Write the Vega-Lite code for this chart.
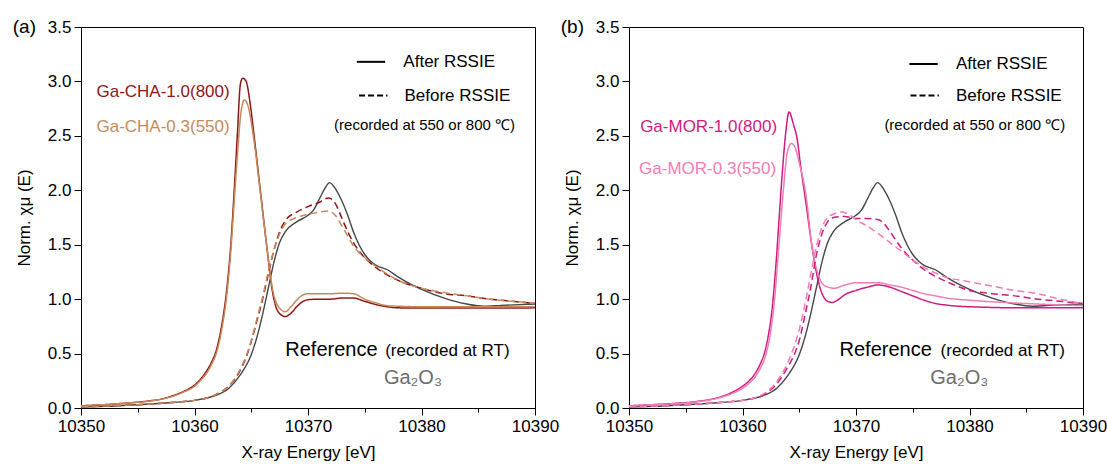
{
"$schema": "https://vega.github.io/schema/vega-lite/v6.json",
"padding": {"left": 12, "top": 17, "right": 0, "bottom": 0},
"spacing": 0,
"config": {
 "font": "Liberation Sans",
 "view": {"stroke": "black", "strokeWidth": 1},
 "axis": {"grid": false, "domainColor": "black", "tickColor": "black", "labelColor": "black", "titleColor": "black", "labelFontSize": 17, "titleFontSize": 17, "titleFontWeight": "normal", "labelFont": "Liberation Sans", "titleFont": "Liberation Sans", "labelPadding": 3, "tickWidth": 1, "domainWidth": 1}
},
"datasets": {
 "ref": [
  {"energy":10350,"mu":0.01},{"energy":10352,"mu":0.015},{"energy":10355,"mu":0.03},{"energy":10358,"mu":0.05},{"energy":10360,"mu":0.07},{"energy":10361,"mu":0.09},{"energy":10362,"mu":0.12},{"energy":10363,"mu":0.18},{"energy":10364,"mu":0.3},{"energy":10365,"mu":0.49},{"energy":10365.5,"mu":0.65},{"energy":10366,"mu":0.86},{"energy":10366.5,"mu":1.1},{"energy":10367,"mu":1.34},{"energy":10367.5,"mu":1.52},{"energy":10368,"mu":1.62},{"energy":10369,"mu":1.71},{"energy":10370,"mu":1.77},{"energy":10370.5,"mu":1.82},{"energy":10371,"mu":1.92},{"energy":10371.5,"mu":2.02},{"energy":10371.9,"mu":2.07},{"energy":10372.5,"mu":2.0},{"energy":10373,"mu":1.9},{"energy":10373.5,"mu":1.77},{"energy":10374,"mu":1.62},{"energy":10374.5,"mu":1.5},{"energy":10375,"mu":1.41},{"energy":10375.5,"mu":1.35},{"energy":10376,"mu":1.31},{"energy":10377,"mu":1.27},{"energy":10378,"mu":1.2},{"energy":10379,"mu":1.14},{"energy":10380,"mu":1.09},{"energy":10382,"mu":1.01},{"energy":10384,"mu":0.955},{"energy":10385.5,"mu":0.935},{"energy":10387,"mu":0.943},{"energy":10390,"mu":0.955}
 ],
 "cha": [
  {"series":"CHA-1.0","stage":"After","energy":10350,"mu":0.02},{"series":"CHA-1.0","stage":"After","energy":10352,"mu":0.03},{"series":"CHA-1.0","stage":"After","energy":10354,"mu":0.045},{"series":"CHA-1.0","stage":"After","energy":10356,"mu":0.065},{"series":"CHA-1.0","stage":"After","energy":10357,"mu":0.08},{"series":"CHA-1.0","stage":"After","energy":10358,"mu":0.11},{"series":"CHA-1.0","stage":"After","energy":10359,"mu":0.15},{"series":"CHA-1.0","stage":"After","energy":10360,"mu":0.21},{"series":"CHA-1.0","stage":"After","energy":10360.5,"mu":0.26},{"series":"CHA-1.0","stage":"After","energy":10361,"mu":0.33},{"series":"CHA-1.0","stage":"After","energy":10361.5,"mu":0.42},{"series":"CHA-1.0","stage":"After","energy":10362,"mu":0.56},{"series":"CHA-1.0","stage":"After","energy":10362.4,"mu":0.76},{"series":"CHA-1.0","stage":"After","energy":10362.8,"mu":1.05},{"series":"CHA-1.0","stage":"After","energy":10363.2,"mu":1.5},{"series":"CHA-1.0","stage":"After","energy":10363.5,"mu":2.0},{"series":"CHA-1.0","stage":"After","energy":10363.77,"mu":2.5},{"series":"CHA-1.0","stage":"After","energy":10364.05,"mu":2.98},{"series":"CHA-1.0","stage":"After","energy":10364.25,"mu":3.03},{"series":"CHA-1.0","stage":"After","energy":10364.55,"mu":3.0},{"series":"CHA-1.0","stage":"After","energy":10364.9,"mu":2.8},{"series":"CHA-1.0","stage":"After","energy":10365.25,"mu":2.5},{"series":"CHA-1.0","stage":"After","energy":10365.8,"mu":2.0},{"series":"CHA-1.0","stage":"After","energy":10366.35,"mu":1.5},{"series":"CHA-1.0","stage":"After","energy":10366.9,"mu":1.05},{"series":"CHA-1.0","stage":"After","energy":10367.4,"mu":0.88},{"series":"CHA-1.0","stage":"After","energy":10368,"mu":0.84},{"series":"CHA-1.0","stage":"After","energy":10368.5,"mu":0.87},{"series":"CHA-1.0","stage":"After","energy":10369,"mu":0.93},{"series":"CHA-1.0","stage":"After","energy":10369.5,"mu":0.975},{"series":"CHA-1.0","stage":"After","energy":10370,"mu":0.995},{"series":"CHA-1.0","stage":"After","energy":10371,"mu":1.0},{"series":"CHA-1.0","stage":"After","energy":10372,"mu":1.0},{"series":"CHA-1.0","stage":"After","energy":10373,"mu":1.01},{"series":"CHA-1.0","stage":"After","energy":10374,"mu":1.01},{"series":"CHA-1.0","stage":"After","energy":10375,"mu":0.98},{"series":"CHA-1.0","stage":"After","energy":10376,"mu":0.95},{"series":"CHA-1.0","stage":"After","energy":10377,"mu":0.93},{"series":"CHA-1.0","stage":"After","energy":10378,"mu":0.92},{"series":"CHA-1.0","stage":"After","energy":10380,"mu":0.918},{"series":"CHA-1.0","stage":"After","energy":10385,"mu":0.918},{"series":"CHA-1.0","stage":"After","energy":10390,"mu":0.92},
  {"series":"CHA-0.3","stage":"After","energy":10350,"mu":0.02},{"series":"CHA-0.3","stage":"After","energy":10352,"mu":0.03},{"series":"CHA-0.3","stage":"After","energy":10354,"mu":0.045},{"series":"CHA-0.3","stage":"After","energy":10356,"mu":0.063},{"series":"CHA-0.3","stage":"After","energy":10358,"mu":0.105},{"series":"CHA-0.3","stage":"After","energy":10359,"mu":0.145},{"series":"CHA-0.3","stage":"After","energy":10360,"mu":0.2},{"series":"CHA-0.3","stage":"After","energy":10360.5,"mu":0.25},{"series":"CHA-0.3","stage":"After","energy":10361,"mu":0.31},{"series":"CHA-0.3","stage":"After","energy":10361.5,"mu":0.4},{"series":"CHA-0.3","stage":"After","energy":10362,"mu":0.53},{"series":"CHA-0.3","stage":"After","energy":10362.4,"mu":0.72},{"series":"CHA-0.3","stage":"After","energy":10362.8,"mu":1.0},{"series":"CHA-0.3","stage":"After","energy":10363.2,"mu":1.44},{"series":"CHA-0.3","stage":"After","energy":10363.5,"mu":1.9},{"series":"CHA-0.3","stage":"After","energy":10363.8,"mu":2.35},{"series":"CHA-0.3","stage":"After","energy":10364.1,"mu":2.72},{"series":"CHA-0.3","stage":"After","energy":10364.4,"mu":2.83},{"series":"CHA-0.3","stage":"After","energy":10364.7,"mu":2.78},{"series":"CHA-0.3","stage":"After","energy":10365.25,"mu":2.45},{"series":"CHA-0.3","stage":"After","energy":10365.8,"mu":1.98},{"series":"CHA-0.3","stage":"After","energy":10366.35,"mu":1.5},{"series":"CHA-0.3","stage":"After","energy":10366.9,"mu":1.08},{"series":"CHA-0.3","stage":"After","energy":10367.4,"mu":0.93},{"series":"CHA-0.3","stage":"After","energy":10368,"mu":0.885},{"series":"CHA-0.3","stage":"After","energy":10368.5,"mu":0.93},{"series":"CHA-0.3","stage":"After","energy":10369,"mu":0.99},{"series":"CHA-0.3","stage":"After","energy":10369.5,"mu":1.035},{"series":"CHA-0.3","stage":"After","energy":10370,"mu":1.05},{"series":"CHA-0.3","stage":"After","energy":10371,"mu":1.05},{"series":"CHA-0.3","stage":"After","energy":10372,"mu":1.05},{"series":"CHA-0.3","stage":"After","energy":10373,"mu":1.055},{"series":"CHA-0.3","stage":"After","energy":10374,"mu":1.05},{"series":"CHA-0.3","stage":"After","energy":10375,"mu":1.0},{"series":"CHA-0.3","stage":"After","energy":10376,"mu":0.965},{"series":"CHA-0.3","stage":"After","energy":10377,"mu":0.94},{"series":"CHA-0.3","stage":"After","energy":10378,"mu":0.935},{"series":"CHA-0.3","stage":"After","energy":10380,"mu":0.93},{"series":"CHA-0.3","stage":"After","energy":10385,"mu":0.93},{"series":"CHA-0.3","stage":"After","energy":10390,"mu":0.93},
  {"series":"CHA-1.0","stage":"Before","energy":10350,"mu":0.012},{"series":"CHA-1.0","stage":"Before","energy":10355,"mu":0.03},{"series":"CHA-1.0","stage":"Before","energy":10358,"mu":0.05},{"series":"CHA-1.0","stage":"Before","energy":10360,"mu":0.07},{"series":"CHA-1.0","stage":"Before","energy":10361,"mu":0.09},{"series":"CHA-1.0","stage":"Before","energy":10362,"mu":0.13},{"series":"CHA-1.0","stage":"Before","energy":10363,"mu":0.2},{"series":"CHA-1.0","stage":"Before","energy":10364,"mu":0.34},{"series":"CHA-1.0","stage":"Before","energy":10364.6,"mu":0.48},{"series":"CHA-1.0","stage":"Before","energy":10365,"mu":0.61},{"series":"CHA-1.0","stage":"Before","energy":10365.5,"mu":0.8},{"series":"CHA-1.0","stage":"Before","energy":10366,"mu":1.0},{"series":"CHA-1.0","stage":"Before","energy":10366.5,"mu":1.23},{"series":"CHA-1.0","stage":"Before","energy":10367,"mu":1.45},{"series":"CHA-1.0","stage":"Before","energy":10367.5,"mu":1.62},{"series":"CHA-1.0","stage":"Before","energy":10368,"mu":1.72},{"series":"CHA-1.0","stage":"Before","energy":10369,"mu":1.8},{"series":"CHA-1.0","stage":"Before","energy":10370,"mu":1.85},{"series":"CHA-1.0","stage":"Before","energy":10371,"mu":1.89},{"series":"CHA-1.0","stage":"Before","energy":10371.8,"mu":1.93},{"series":"CHA-1.0","stage":"Before","energy":10372.4,"mu":1.88},{"series":"CHA-1.0","stage":"Before","energy":10373,"mu":1.74},{"series":"CHA-1.0","stage":"Before","energy":10373.5,"mu":1.62},{"series":"CHA-1.0","stage":"Before","energy":10374,"mu":1.52},{"series":"CHA-1.0","stage":"Before","energy":10375,"mu":1.38},{"series":"CHA-1.0","stage":"Before","energy":10376,"mu":1.29},{"series":"CHA-1.0","stage":"Before","energy":10377,"mu":1.22},{"series":"CHA-1.0","stage":"Before","energy":10378,"mu":1.17},{"series":"CHA-1.0","stage":"Before","energy":10380,"mu":1.1},{"series":"CHA-1.0","stage":"Before","energy":10382,"mu":1.05},{"series":"CHA-1.0","stage":"Before","energy":10384,"mu":1.03},{"series":"CHA-1.0","stage":"Before","energy":10386,"mu":1.0},{"series":"CHA-1.0","stage":"Before","energy":10388,"mu":0.98},{"series":"CHA-1.0","stage":"Before","energy":10390,"mu":0.96},
  {"series":"CHA-0.3","stage":"Before","energy":10350,"mu":0.012},{"series":"CHA-0.3","stage":"Before","energy":10355,"mu":0.03},{"series":"CHA-0.3","stage":"Before","energy":10358,"mu":0.05},{"series":"CHA-0.3","stage":"Before","energy":10360,"mu":0.07},{"series":"CHA-0.3","stage":"Before","energy":10361,"mu":0.09},{"series":"CHA-0.3","stage":"Before","energy":10362,"mu":0.13},{"series":"CHA-0.3","stage":"Before","energy":10363,"mu":0.2},{"series":"CHA-0.3","stage":"Before","energy":10364,"mu":0.35},{"series":"CHA-0.3","stage":"Before","energy":10364.6,"mu":0.49},{"series":"CHA-0.3","stage":"Before","energy":10365,"mu":0.62},{"series":"CHA-0.3","stage":"Before","energy":10365.5,"mu":0.82},{"series":"CHA-0.3","stage":"Before","energy":10366,"mu":1.02},{"series":"CHA-0.3","stage":"Before","energy":10366.5,"mu":1.25},{"series":"CHA-0.3","stage":"Before","energy":10367,"mu":1.45},{"series":"CHA-0.3","stage":"Before","energy":10367.5,"mu":1.6},{"series":"CHA-0.3","stage":"Before","energy":10368,"mu":1.69},{"series":"CHA-0.3","stage":"Before","energy":10369,"mu":1.75},{"series":"CHA-0.3","stage":"Before","energy":10370,"mu":1.78},{"series":"CHA-0.3","stage":"Before","energy":10371,"mu":1.8},{"series":"CHA-0.3","stage":"Before","energy":10371.8,"mu":1.81},{"series":"CHA-0.3","stage":"Before","energy":10372.4,"mu":1.77},{"series":"CHA-0.3","stage":"Before","energy":10373,"mu":1.67},{"series":"CHA-0.3","stage":"Before","energy":10373.5,"mu":1.58},{"series":"CHA-0.3","stage":"Before","energy":10374,"mu":1.49},{"series":"CHA-0.3","stage":"Before","energy":10375,"mu":1.38},{"series":"CHA-0.3","stage":"Before","energy":10376,"mu":1.3},{"series":"CHA-0.3","stage":"Before","energy":10377,"mu":1.23},{"series":"CHA-0.3","stage":"Before","energy":10378,"mu":1.17},{"series":"CHA-0.3","stage":"Before","energy":10380,"mu":1.1},{"series":"CHA-0.3","stage":"Before","energy":10382,"mu":1.06},{"series":"CHA-0.3","stage":"Before","energy":10384,"mu":1.03},{"series":"CHA-0.3","stage":"Before","energy":10386,"mu":1.0},{"series":"CHA-0.3","stage":"Before","energy":10388,"mu":0.98},{"series":"CHA-0.3","stage":"Before","energy":10390,"mu":0.965}
 ],
 "mor": [
  {"series":"MOR-1.0","stage":"After","energy":10350,"mu":0.02},{"series":"MOR-1.0","stage":"After","energy":10352,"mu":0.03},{"series":"MOR-1.0","stage":"After","energy":10354,"mu":0.042},{"series":"MOR-1.0","stage":"After","energy":10356,"mu":0.06},{"series":"MOR-1.0","stage":"After","energy":10358,"mu":0.1},{"series":"MOR-1.0","stage":"After","energy":10359,"mu":0.14},{"series":"MOR-1.0","stage":"After","energy":10360,"mu":0.2},{"series":"MOR-1.0","stage":"After","energy":10360.5,"mu":0.24},{"series":"MOR-1.0","stage":"After","energy":10361,"mu":0.3},{"series":"MOR-1.0","stage":"After","energy":10361.5,"mu":0.39},{"series":"MOR-1.0","stage":"After","energy":10362,"mu":0.53},{"series":"MOR-1.0","stage":"After","energy":10362.3,"mu":0.68},{"series":"MOR-1.0","stage":"After","energy":10362.6,"mu":0.9},{"series":"MOR-1.0","stage":"After","energy":10362.9,"mu":1.25},{"series":"MOR-1.0","stage":"After","energy":10363.2,"mu":1.7},{"series":"MOR-1.0","stage":"After","energy":10363.5,"mu":2.15},{"series":"MOR-1.0","stage":"After","energy":10363.8,"mu":2.52},{"series":"MOR-1.0","stage":"After","energy":10364.1,"mu":2.72},{"series":"MOR-1.0","stage":"After","energy":10364.5,"mu":2.6},{"series":"MOR-1.0","stage":"After","energy":10364.8,"mu":2.48},{"series":"MOR-1.0","stage":"After","energy":10365.15,"mu":2.2},{"series":"MOR-1.0","stage":"After","energy":10365.5,"mu":1.95},{"series":"MOR-1.0","stage":"After","energy":10366.1,"mu":1.5},{"series":"MOR-1.0","stage":"After","energy":10366.6,"mu":1.2},{"series":"MOR-1.0","stage":"After","energy":10367.1,"mu":1.03},{"series":"MOR-1.0","stage":"After","energy":10367.5,"mu":0.98},{"series":"MOR-1.0","stage":"After","energy":10367.9,"mu":0.97},{"series":"MOR-1.0","stage":"After","energy":10368.5,"mu":1.0},{"series":"MOR-1.0","stage":"After","energy":10369,"mu":1.04},{"series":"MOR-1.0","stage":"After","energy":10370,"mu":1.08},{"series":"MOR-1.0","stage":"After","energy":10371,"mu":1.11},{"series":"MOR-1.0","stage":"After","energy":10371.9,"mu":1.13},{"series":"MOR-1.0","stage":"After","energy":10373,"mu":1.11},{"series":"MOR-1.0","stage":"After","energy":10374,"mu":1.07},{"series":"MOR-1.0","stage":"After","energy":10375,"mu":1.03},{"series":"MOR-1.0","stage":"After","energy":10376,"mu":0.99},{"series":"MOR-1.0","stage":"After","energy":10377,"mu":0.96},{"series":"MOR-1.0","stage":"After","energy":10378,"mu":0.945},{"series":"MOR-1.0","stage":"After","energy":10380,"mu":0.93},{"series":"MOR-1.0","stage":"After","energy":10385,"mu":0.92},{"series":"MOR-1.0","stage":"After","energy":10390,"mu":0.92},
  {"series":"MOR-0.3","stage":"After","energy":10350,"mu":0.02},{"series":"MOR-0.3","stage":"After","energy":10352,"mu":0.03},{"series":"MOR-0.3","stage":"After","energy":10354,"mu":0.04},{"series":"MOR-0.3","stage":"After","energy":10356,"mu":0.057},{"series":"MOR-0.3","stage":"After","energy":10358,"mu":0.095},{"series":"MOR-0.3","stage":"After","energy":10359,"mu":0.13},{"series":"MOR-0.3","stage":"After","energy":10360,"mu":0.18},{"series":"MOR-0.3","stage":"After","energy":10360.5,"mu":0.22},{"series":"MOR-0.3","stage":"After","energy":10361,"mu":0.27},{"series":"MOR-0.3","stage":"After","energy":10361.5,"mu":0.35},{"series":"MOR-0.3","stage":"After","energy":10362,"mu":0.47},{"series":"MOR-0.3","stage":"After","energy":10362.4,"mu":0.65},{"series":"MOR-0.3","stage":"After","energy":10362.8,"mu":0.97},{"series":"MOR-0.3","stage":"After","energy":10363.2,"mu":1.48},{"series":"MOR-0.3","stage":"After","energy":10363.6,"mu":2.0},{"series":"MOR-0.3","stage":"After","energy":10363.95,"mu":2.35},{"series":"MOR-0.3","stage":"After","energy":10364.3,"mu":2.43},{"series":"MOR-0.3","stage":"After","energy":10364.6,"mu":2.4},{"series":"MOR-0.3","stage":"After","energy":10365,"mu":2.25},{"series":"MOR-0.3","stage":"After","energy":10365.6,"mu":1.95},{"series":"MOR-0.3","stage":"After","energy":10366.1,"mu":1.5},{"series":"MOR-0.3","stage":"After","energy":10366.75,"mu":1.2},{"series":"MOR-0.3","stage":"After","energy":10367.3,"mu":1.12},{"series":"MOR-0.3","stage":"After","energy":10368.1,"mu":1.1},{"series":"MOR-0.3","stage":"After","energy":10369,"mu":1.13},{"series":"MOR-0.3","stage":"After","energy":10370,"mu":1.15},{"series":"MOR-0.3","stage":"After","energy":10371,"mu":1.15},{"series":"MOR-0.3","stage":"After","energy":10372,"mu":1.15},{"series":"MOR-0.3","stage":"After","energy":10373,"mu":1.13},{"series":"MOR-0.3","stage":"After","energy":10374,"mu":1.11},{"series":"MOR-0.3","stage":"After","energy":10375,"mu":1.08},{"series":"MOR-0.3","stage":"After","energy":10376,"mu":1.05},{"series":"MOR-0.3","stage":"After","energy":10377,"mu":1.03},{"series":"MOR-0.3","stage":"After","energy":10378,"mu":1.01},{"series":"MOR-0.3","stage":"After","energy":10380,"mu":0.99},{"series":"MOR-0.3","stage":"After","energy":10383,"mu":0.97},{"series":"MOR-0.3","stage":"After","energy":10386,"mu":0.955},{"series":"MOR-0.3","stage":"After","energy":10390,"mu":0.94},
  {"series":"MOR-1.0","stage":"Before","energy":10350,"mu":0.012},{"series":"MOR-1.0","stage":"Before","energy":10355,"mu":0.03},{"series":"MOR-1.0","stage":"Before","energy":10358,"mu":0.05},{"series":"MOR-1.0","stage":"Before","energy":10360,"mu":0.07},{"series":"MOR-1.0","stage":"Before","energy":10361,"mu":0.09},{"series":"MOR-1.0","stage":"Before","energy":10362,"mu":0.13},{"series":"MOR-1.0","stage":"Before","energy":10363,"mu":0.22},{"series":"MOR-1.0","stage":"Before","energy":10364,"mu":0.38},{"series":"MOR-1.0","stage":"Before","energy":10364.6,"mu":0.5},{"series":"MOR-1.0","stage":"Before","energy":10365,"mu":0.62},{"series":"MOR-1.0","stage":"Before","energy":10365.5,"mu":0.85},{"series":"MOR-1.0","stage":"Before","energy":10366,"mu":1.1},{"series":"MOR-1.0","stage":"Before","energy":10366.5,"mu":1.4},{"series":"MOR-1.0","stage":"Before","energy":10367,"mu":1.6},{"series":"MOR-1.0","stage":"Before","energy":10367.5,"mu":1.71},{"series":"MOR-1.0","stage":"Before","energy":10368,"mu":1.75},{"series":"MOR-1.0","stage":"Before","energy":10369,"mu":1.76},{"series":"MOR-1.0","stage":"Before","energy":10370,"mu":1.74},{"series":"MOR-1.0","stage":"Before","energy":10371,"mu":1.74},{"series":"MOR-1.0","stage":"Before","energy":10372,"mu":1.73},{"series":"MOR-1.0","stage":"Before","energy":10372.5,"mu":1.69},{"series":"MOR-1.0","stage":"Before","energy":10373,"mu":1.62},{"series":"MOR-1.0","stage":"Before","energy":10374,"mu":1.47},{"series":"MOR-1.0","stage":"Before","energy":10375,"mu":1.36},{"series":"MOR-1.0","stage":"Before","energy":10376,"mu":1.27},{"series":"MOR-1.0","stage":"Before","energy":10377,"mu":1.21},{"series":"MOR-1.0","stage":"Before","energy":10378,"mu":1.16},{"series":"MOR-1.0","stage":"Before","energy":10380,"mu":1.08},{"series":"MOR-1.0","stage":"Before","energy":10382,"mu":1.05},{"series":"MOR-1.0","stage":"Before","energy":10384,"mu":1.03},{"series":"MOR-1.0","stage":"Before","energy":10386,"mu":1.0},{"series":"MOR-1.0","stage":"Before","energy":10388,"mu":0.98},{"series":"MOR-1.0","stage":"Before","energy":10390,"mu":0.96},
  {"series":"MOR-0.3","stage":"Before","energy":10350,"mu":0.012},{"series":"MOR-0.3","stage":"Before","energy":10355,"mu":0.03},{"series":"MOR-0.3","stage":"Before","energy":10358,"mu":0.05},{"series":"MOR-0.3","stage":"Before","energy":10360,"mu":0.07},{"series":"MOR-0.3","stage":"Before","energy":10361,"mu":0.09},{"series":"MOR-0.3","stage":"Before","energy":10362,"mu":0.14},{"series":"MOR-0.3","stage":"Before","energy":10363,"mu":0.24},{"series":"MOR-0.3","stage":"Before","energy":10364,"mu":0.42},{"series":"MOR-0.3","stage":"Before","energy":10364.6,"mu":0.58},{"series":"MOR-0.3","stage":"Before","energy":10365,"mu":0.72},{"series":"MOR-0.3","stage":"Before","energy":10365.5,"mu":0.95},{"series":"MOR-0.3","stage":"Before","energy":10366,"mu":1.22},{"series":"MOR-0.3","stage":"Before","energy":10366.5,"mu":1.48},{"series":"MOR-0.3","stage":"Before","energy":10367,"mu":1.66},{"series":"MOR-0.3","stage":"Before","energy":10367.5,"mu":1.75},{"series":"MOR-0.3","stage":"Before","energy":10368,"mu":1.78},{"series":"MOR-0.3","stage":"Before","energy":10368.7,"mu":1.8},{"series":"MOR-0.3","stage":"Before","energy":10369.5,"mu":1.77},{"series":"MOR-0.3","stage":"Before","energy":10370,"mu":1.73},{"series":"MOR-0.3","stage":"Before","energy":10371,"mu":1.67},{"series":"MOR-0.3","stage":"Before","energy":10372,"mu":1.6},{"series":"MOR-0.3","stage":"Before","energy":10373,"mu":1.52},{"series":"MOR-0.3","stage":"Before","energy":10374,"mu":1.44},{"series":"MOR-0.3","stage":"Before","energy":10375,"mu":1.36},{"series":"MOR-0.3","stage":"Before","energy":10376,"mu":1.29},{"series":"MOR-0.3","stage":"Before","energy":10377,"mu":1.24},{"series":"MOR-0.3","stage":"Before","energy":10378,"mu":1.2},{"series":"MOR-0.3","stage":"Before","energy":10380,"mu":1.16},{"series":"MOR-0.3","stage":"Before","energy":10382,"mu":1.12},{"series":"MOR-0.3","stage":"Before","energy":10384,"mu":1.08},{"series":"MOR-0.3","stage":"Before","energy":10386,"mu":1.05},{"series":"MOR-0.3","stage":"Before","energy":10388,"mu":1.0},{"series":"MOR-0.3","stage":"Before","energy":10390,"mu":0.96}
 ]
},
"hconcat": [
 {
  "width": 454, "height": 381,
  "data": {"values": [{"note": "annotation"}]},
  "layer": [
   {"data": {"name": "ref"}, "mark": {"type": "line", "interpolate": "monotone", "color": "#474747", "strokeWidth": 1.4, "clip": true},
    "encoding": {
     "x": {"field": "energy", "type": "quantitative", "scale": {"domain": [10350, 10390], "nice": false, "zero": false},
      "axis": {"title": "X-ray Energy [eV]", "values": [10350,10355,10360,10365,10370,10375,10380,10385,10390], "labelExpr": "datum.value % 10 === 0 ? datum.label : ''", "format": "d", "tickSize": {"condition": {"test": "datum.value % 10 === 0", "value": 7}, "value": 4}, "titlePadding": 10, "labelFlush": false, "labelOverlap": false}},
     "y": {"field": "mu", "type": "quantitative", "scale": {"domain": [0, 3.5], "nice": false},
      "axis": {"title": "Norm. χμ (E)", "values": [0,0.25,0.5,0.75,1,1.25,1.5,1.75,2,2.25,2.5,2.75,3,3.25,3.5], "labelExpr": "(datum.value * 2) % 1 === 0 ? format(datum.value, '.1f') : ''", "tickSize": {"condition": {"test": "(datum.value * 2) % 1 === 0", "value": 7}, "value": 4}, "titlePadding": 14, "labelOverlap": false}}
    }},
   {"data": {"name": "cha"}, "mark": {"type": "line", "interpolate": "monotone", "strokeWidth": 1.5, "clip": true},
    "encoding": {
     "x": {"field": "energy", "type": "quantitative"},
     "y": {"field": "mu", "type": "quantitative"},
     "color": {"field": "series", "type": "nominal", "scale": {"domain": ["CHA-1.0", "CHA-0.3", "MOR-1.0", "MOR-0.3"], "range": ["#8E1616", "#C58A5C", "#CE1A82", "#F07DB4"]}, "legend": null},
     "strokeDash": {"field": "stage", "type": "nominal", "scale": {"domain": ["After", "Before"], "range": [[1, 0], [7, 4]]}, "legend": null}
    }},
   {"mark": {"type": "rule", "color": "black", "strokeWidth": 2}, "encoding": {"x": {"datum": 10374.3}, "x2": {"datum": 10376.8}, "y": {"datum": 3.18}}},
   {"mark": {"type": "rule", "color": "black", "strokeWidth": 2, "strokeDash": [6, 3]}, "encoding": {"x": {"datum": 10374.5}, "x2": {"datum": 10377.0}, "y": {"datum": 2.87}}},
   {"mark": {"type": "text", "text": "After RSSIE", "align": "left", "baseline": "middle", "fontSize": 17, "color": "black"}, "encoding": {"x": {"datum": 10378.4}, "y": {"datum": 3.18}}},
   {"mark": {"type": "text", "text": "Before RSSIE", "align": "left", "baseline": "middle", "fontSize": 17, "color": "black"}, "encoding": {"x": {"datum": 10378.5}, "y": {"datum": 2.87}}},
   {"mark": {"type": "text", "text": "(recorded at 550 or 800 ℃)", "align": "left", "baseline": "middle", "fontSize": 15, "color": "black"}, "encoding": {"x": {"datum": 10372.3}, "y": {"datum": 2.6}}},
   {"mark": {"type": "text", "text": "Ga-CHA-1.0(800)", "align": "right", "baseline": "middle", "fontSize": 17, "color": "#8E1616"}, "encoding": {"x": {"datum": 10363.1}, "y": {"datum": 2.9}}},
   {"mark": {"type": "text", "text": "Ga-CHA-0.3(550)", "align": "right", "baseline": "middle", "fontSize": 17, "color": "#C58A5C"}, "encoding": {"x": {"datum": 10363.1}, "y": {"datum": 2.58}}},
   {"mark": {"type": "text", "text": "Reference", "align": "left", "baseline": "alphabetic", "fontSize": 20, "color": "black"}, "encoding": {"x": {"datum": 10368.0}, "y": {"datum": 0.475}}},
   {"mark": {"type": "text", "text": "(recorded at RT)", "align": "left", "baseline": "alphabetic", "fontSize": 17, "color": "black"}, "encoding": {"x": {"datum": 10376.8}, "y": {"datum": 0.475}}},
   {"mark": {"type": "text", "text": "Ga₂O₃", "align": "center", "baseline": "middle", "fontSize": 20, "color": "#6E6E6E"}, "encoding": {"x": {"datum": 10379.25}, "y": {"datum": 0.28}}},
   {"mark": {"type": "text", "text": "(a)", "align": "right", "baseline": "middle", "fontSize": 19, "color": "black", "dx": -45}, "encoding": {"x": {"datum": 10350}, "y": {"datum": 3.5}}}
  ]
 },
 {
  "width": 454, "height": 381,
  "data": {"values": [{"note": "annotation"}]},
  "layer": [
   {"data": {"name": "ref"}, "mark": {"type": "line", "interpolate": "monotone", "color": "#474747", "strokeWidth": 1.4, "clip": true},
    "encoding": {
     "x": {"field": "energy", "type": "quantitative", "scale": {"domain": [10350, 10390], "nice": false, "zero": false},
      "axis": {"title": "X-ray Energy [eV]", "values": [10350,10355,10360,10365,10370,10375,10380,10385,10390], "labelExpr": "datum.value % 10 === 0 ? datum.label : ''", "format": "d", "tickSize": {"condition": {"test": "datum.value % 10 === 0", "value": 7}, "value": 4}, "titlePadding": 10, "labelFlush": false, "labelOverlap": false}},
     "y": {"field": "mu", "type": "quantitative", "scale": {"domain": [0, 3.5], "nice": false},
      "axis": {"title": "Norm. χμ (E)", "values": [0,0.25,0.5,0.75,1,1.25,1.5,1.75,2,2.25,2.5,2.75,3,3.25,3.5], "labelExpr": "(datum.value * 2) % 1 === 0 ? format(datum.value, '.1f') : ''", "tickSize": {"condition": {"test": "(datum.value * 2) % 1 === 0", "value": 7}, "value": 4}, "titlePadding": 14, "labelOverlap": false}}
    }},
   {"data": {"name": "mor"}, "mark": {"type": "line", "interpolate": "monotone", "strokeWidth": 1.5, "clip": true},
    "encoding": {
     "x": {"field": "energy", "type": "quantitative"},
     "y": {"field": "mu", "type": "quantitative"},
     "color": {"field": "series", "type": "nominal", "scale": {"domain": ["CHA-1.0", "CHA-0.3", "MOR-1.0", "MOR-0.3"], "range": ["#8E1616", "#C58A5C", "#CE1A82", "#F07DB4"]}, "legend": null},
     "strokeDash": {"field": "stage", "type": "nominal", "scale": {"domain": ["After", "Before"], "range": [[1, 0], [7, 4]]}, "legend": null}
    }},
   {"mark": {"type": "rule", "color": "black", "strokeWidth": 2}, "encoding": {"x": {"datum": 10374.7}, "x2": {"datum": 10377.2}, "y": {"datum": 3.16}}},
   {"mark": {"type": "rule", "color": "black", "strokeWidth": 2, "strokeDash": [6, 3]}, "encoding": {"x": {"datum": 10374.8}, "x2": {"datum": 10377.3}, "y": {"datum": 2.87}}},
   {"mark": {"type": "text", "text": "After RSSIE", "align": "left", "baseline": "middle", "fontSize": 17, "color": "black"}, "encoding": {"x": {"datum": 10378.8}, "y": {"datum": 3.16}}},
   {"mark": {"type": "text", "text": "Before RSSIE", "align": "left", "baseline": "middle", "fontSize": 17, "color": "black"}, "encoding": {"x": {"datum": 10378.8}, "y": {"datum": 2.87}}},
   {"mark": {"type": "text", "text": "(recorded at 550 or 800 ℃)", "align": "left", "baseline": "middle", "fontSize": 15, "color": "black"}, "encoding": {"x": {"datum": 10372.5}, "y": {"datum": 2.6}}},
   {"mark": {"type": "text", "text": "Ga-MOR-1.0(800)", "align": "right", "baseline": "middle", "fontSize": 17, "color": "#CE1A82"}, "encoding": {"x": {"datum": 10363.05}, "y": {"datum": 2.58}}},
   {"mark": {"type": "text", "text": "Ga-MOR-0.3(550)", "align": "right", "baseline": "middle", "fontSize": 17, "color": "#F07DB4"}, "encoding": {"x": {"datum": 10362.96}, "y": {"datum": 2.2}}},
   {"mark": {"type": "text", "text": "Reference", "align": "left", "baseline": "alphabetic", "fontSize": 20, "color": "black"}, "encoding": {"x": {"datum": 10368.55}, "y": {"datum": 0.475}}},
   {"mark": {"type": "text", "text": "(recorded at RT)", "align": "left", "baseline": "alphabetic", "fontSize": 17, "color": "black"}, "encoding": {"x": {"datum": 10377.45}, "y": {"datum": 0.475}}},
   {"mark": {"type": "text", "text": "Ga₂O₃", "align": "center", "baseline": "middle", "fontSize": 20, "color": "#6E6E6E"}, "encoding": {"x": {"datum": 10379.1}, "y": {"datum": 0.28}}},
   {"mark": {"type": "text", "text": "(b)", "align": "right", "baseline": "middle", "fontSize": 19, "color": "black", "dx": -45}, "encoding": {"x": {"datum": 10350}, "y": {"datum": 3.5}}}
  ]
 }
]
}
